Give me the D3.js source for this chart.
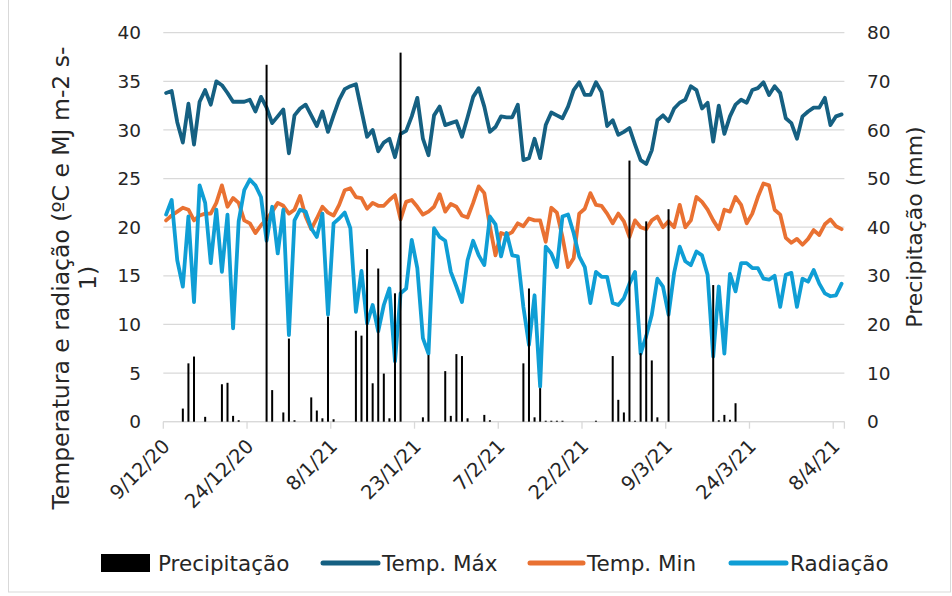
<!DOCTYPE html>
<html>
<head>
<meta charset="utf-8">
<script src="https://cdnjs.cloudflare.com/ajax/libs/d3/7.8.5/d3.min.js"></script>
<style>
  body { margin:0; background:#fff; }
  svg text { font-family:'DejaVu Sans', sans-serif; fill:#262626; }
</style>
</head>
<body>
<svg id="chart" width="952" height="596"></svg>
<script>
// one value per day, 9/12/20 .. 9/4/21
var startDate = new Date(2020, 11, 9)
var nDays = 122

var precip = [
    0, 0, 0, 2.7, 12.0, 13.4, 0, 1.0, 0, 0,
    7.7, 8.0, 1.2, 0.3, 0, 0, 0, 0, 73.4, 6.5,
    0, 1.9, 17.1, 0.3, 0, 0, 5.0, 2.3, 0.7, 21.6,
    0.5, 0, 0, 0, 18.7, 17.7, 35.5, 7.9, 31.5, 9.9,
    0.7, 26.4, 75.9, 0, 0, 0, 0.9, 13.7, 0, 0,
    10.4, 1.2, 13.9, 13.5, 0.7, 0, 0, 1.4, 0.3, 0,
    0, 0, 0, 0, 12.0, 27.4, 0.9, 6.9, 0.2, 0.2,
    0.2, 0.2, 0, 0, 0, 0, 0, 0.2, 0, 0,
    13.5, 4.5, 1.9, 53.7, 0.2, 14.1, 41.2, 12.6, 0.9, 0,
    43.7, 0, 0, 0, 0, 0, 0, 0, 28.1, 0.3,
    1.4, 0.4, 3.8, 0, 0, 0, 0, 0, 0, 0,
    0, 0, 0, 0, 0, 0, 0, 0, 0, 0,
    0, 0
]

var tempMax = [
    33.8, 34.0, 30.8, 28.7, 32.7, 28.5, 32.9, 34.1, 32.6, 35.0,
    34.6, 33.8, 32.9, 32.9, 32.9, 33.1, 31.9, 33.4, 32.3, 30.7,
    31.4, 32.1, 27.6, 31.5, 32.2, 32.6, 31.5, 30.4, 31.9, 29.8,
    31.5, 33.1, 34.2, 34.5, 34.7, 32.0, 29.3, 30.0, 27.8, 28.7,
    29.1, 27.2, 29.6, 29.9, 31.4, 33.3, 29.1, 27.4, 31.5, 32.4,
    30.5, 30.7, 30.9, 29.3, 31.3, 33.4, 34.3, 32.4, 29.8, 30.3,
    31.4, 31.3, 31.3, 32.6, 26.9, 27.1, 29.1, 27.1, 30.5, 31.8,
    31.5, 31.2, 32.4, 34.1, 34.9, 33.6, 33.6, 34.9, 33.9, 30.4,
    31.0, 29.5, 29.8, 30.2, 28.5, 26.9, 26.5, 27.9, 31.0, 31.5,
    30.9, 32.2, 32.8, 33.1, 34.5, 34.1, 32.2, 32.8, 28.8, 32.5,
    29.6, 31.4, 32.6, 33.1, 32.8, 34.1, 34.3, 34.9, 33.6, 34.5,
    33.8, 31.2, 30.7, 29.1, 31.4, 31.9, 32.3, 32.3, 33.3, 30.5,
    31.4, 31.6
]

var tempMin = [
    20.7, 21.2, 21.6, 22.0, 21.8, 20.7, 21.2, 21.4, 21.4, 22.5,
    24.3, 22.1, 23.0, 22.5, 20.7, 20.4, 19.4, 20.2, 20.8, 21.6,
    22.5, 22.2, 21.4, 21.8, 23.2, 21.1, 19.8, 20.9, 22.1, 21.5,
    21.2, 22.3, 23.8, 24.0, 23.1, 23.0, 21.9, 22.5, 22.2, 22.2,
    22.8, 23.3, 20.8, 22.6, 22.8, 22.1, 21.3, 21.6, 22.1, 23.4,
    21.6, 22.4, 22.1, 21.2, 21.0, 22.5, 24.2, 23.5, 20.1, 17.1,
    19.4, 19.2, 19.5, 20.4, 20.1, 20.9, 20.7, 20.7, 18.5, 22.0,
    21.5, 19.0, 15.9, 16.8, 21.4, 21.9, 23.5, 22.3, 22.2, 21.4,
    20.4, 21.4, 20.6, 19.0, 20.7, 20.0, 19.8, 20.7, 21.1, 20.0,
    20.6, 20.0, 22.3, 20.0, 20.7, 23.1, 22.6, 21.8, 20.7, 19.8,
    21.8, 21.6, 23.1, 22.3, 20.4, 21.4, 23.1, 24.5, 24.3, 21.8,
    21.3, 18.9, 18.4, 18.8, 18.2, 18.8, 19.7, 19.2, 20.3, 20.8,
    20.1, 19.8
]

var radiation = [
    21.3, 22.8, 16.6, 13.9, 21.1, 12.3, 24.3, 22.5, 16.3, 21.8,
    15.4, 21.3, 9.6, 20.6, 23.8, 24.9, 24.3, 23.1, 18.6, 22.1,
    17.3, 21.8, 8.9, 20.7, 21.8, 21.6, 19.9, 19.0, 21.4, 11.0,
    20.4, 20.9, 21.5, 19.9, 11.3, 15.5, 10.1, 12.0, 9.3, 12.0,
    13.7, 6.2, 13.2, 13.7, 18.7, 15.8, 8.6, 7.0, 19.9, 19.0,
    18.6, 15.4, 13.9, 12.3, 16.6, 18.6, 17.1, 16.1, 21.1, 20.3,
    17.0, 19.4, 17.1, 17.0, 11.8, 7.9, 13.0, 3.6, 18.0, 17.3,
    15.9, 21.1, 21.3, 19.4, 17.0, 15.9, 12.2, 15.4, 14.9, 14.9,
    12.2, 12.0, 12.7, 14.2, 15.4, 7.0, 8.8, 11.0, 14.7, 13.9,
    11.0, 15.3, 18.0, 16.5, 16.1, 17.5, 17.1, 15.1, 6.7, 13.9,
    7.0, 15.2, 13.4, 16.3, 16.3, 15.8, 15.8, 14.7, 14.6, 15.0,
    11.8, 15.1, 15.3, 11.8, 14.7, 14.4, 15.6, 14.2, 13.2, 12.9,
    13.0, 14.2
]

var leftTicks = [0, 5, 10, 15, 20, 25, 30, 35, 40]
var rightTicks = [0, 10, 20, 30, 40, 50, 60, 70, 80]
var dateTickStep = 15

var lineSeries = [
    { name:'Temp. Máx', values:tempMax, color:'#156082' },
    { name:'Temp. Min', values:tempMin, color:'#E97132' },
    { name:'Radiação', values:radiation, color:'#0F9ED5' }
]

var dates = d3.range(nDays).map(i=> d3.timeDay.offset(startDate, i))

var plot = { left:163.3, right:844.4, top:32.7, bottom:421.7 }
var gridColor = '#d9d9d9'

var svg = d3.select('#chart')

// outer chart frame
svg.append('rect')
    .attr('x', 8.5).attr('y', -2)
    .attr('width', 942).attr('height', 594)
    .style('fill', 'none')
    .style('stroke', gridColor)

var x = d3.scaleTime()
    .domain([startDate, d3.timeDay.offset(startDate, nDays)])
    .range([plot.left, plot.right])
var xMid = d=> x(d3.timeHour.offset(d, 12))   // columns sit between tick marks

var yL = d3.scaleLinear().domain([0, 40]).range([plot.bottom, plot.top])
var yR = d3.scaleLinear().domain([0, 80]).range([plot.bottom, plot.top])

// horizontal gridlines
svg.append('g')
    .selectAll('line')
    .data(leftTicks)
    .join('line')
        .attr('x1', plot.left).attr('x2', plot.right)
        .attr('y1', d=> yL(d)).attr('y2', d=> yL(d))
        .style('stroke', gridColor)
        .style('stroke-width', 1.3)

// left axis labels
svg.append('g')
    .selectAll('text')
    .data(leftTicks)
    .join('text')
        .attr('x', 141)
        .attr('y', d=> yL(d))
        .attr('dy', '0.36em')
        .attr('text-anchor', 'end')
        .style('font-size', '18.5px')
        .text(d=> d)

// right axis labels
svg.append('g')
    .selectAll('text')
    .data(rightTicks)
    .join('text')
        .attr('x', 867)
        .attr('y', d=> yR(d))
        .attr('dy', '0.36em')
        .style('font-size', '18.5px')
        .text(d=> d)

// date axis
var tickDates = d3.range(0, nDays, dateTickStep).map(i=> d3.timeDay.offset(startDate, i))
var fmt = d3.timeFormat('%-d/%-m/%y')

svg.append('line')
    .attr('x1', plot.left).attr('x2', plot.right)
    .attr('y1', plot.bottom).attr('y2', plot.bottom)
    .style('stroke', gridColor)
    .style('stroke-width', 1.3)

svg.append('g')
    .selectAll('line')
    .data(tickDates.concat([d3.timeDay.offset(startDate, nDays)]))
    .join('line')
        .attr('x1', d=> x(d)).attr('x2', d=> x(d))
        .attr('y1', plot.bottom).attr('y2', plot.bottom + 7)
        .style('stroke', gridColor)
        .style('stroke-width', 1.3)

svg.append('g')
    .selectAll('text')
    .data(tickDates)
    .join('text')
        .attr('transform', d=> 'translate(' + (x(d) + 3) + ',' + (plot.bottom + 21) + ') rotate(-45)')
        .attr('text-anchor', 'end')
        .attr('dy', '0.35em')
        .style('font-size', '19.5px')
        .text(d=> fmt(d))

// lines
var line = d3.line()
    .x((v, i)=> xMid(dates[i]))
    .y(v=> yL(v))

svg.append('g')
    .selectAll('path')
    .data(lineSeries)
    .join('path')
        .attr('d', s=> line(s.values))
        .style('fill', 'none')
        .style('stroke', s=> s.color)
        .style('stroke-width', 3.8)
        .style('stroke-linejoin', 'round')
        .style('stroke-linecap', 'round')

// precipitation columns (secondary axis, drawn on top)
svg.append('g')
    .selectAll('rect')
    .data(precip.map((p, i)=> ({ date:dates[i], p:p })).filter(d=> d.p > 0))
    .join('rect')
        .attr('x', d=> xMid(d.date) - 1)
        .attr('width', 2)
        .attr('y', d=> yR(d.p))
        .attr('height', d=> yR(0) - yR(d.p))
        .style('fill', '#000')

// axis titles
svg.append('text')
    .attr('transform', 'translate(69,278) rotate(-90)')
    .attr('text-anchor', 'middle')
    .style('font-size', '23.5px')
    .text('Temperatura e radiação (ºC e MJ m-2 s-')

svg.append('text')
    .attr('transform', 'translate(96,278) rotate(-90)')
    .attr('text-anchor', 'middle')
    .style('font-size', '23.5px')
    .text('1)')

svg.append('text')
    .attr('transform', 'translate(922,227) rotate(-90)')
    .attr('text-anchor', 'middle')
    .style('font-size', '22px')
    .text('Precipitação (mm)')

// legend
var legendY = 563
var legend = svg.append('g').style('font-size', '21.5px')

legend.append('rect')
    .attr('x', 101).attr('y', legendY - 9)
    .attr('width', 49).attr('height', 18)
    .style('fill', '#000')
legend.append('text')
    .attr('x', 158).attr('y', legendY).attr('dy', '0.36em')
    .text('Precipitação')

var legendX = [[323, 382], [530, 587], [731, 790]]
lineSeries.forEach((s, i)=> {
    legend.append('line')
        .attr('x1', legendX[i][0]).attr('x2', legendX[i][1] - 4)
        .attr('y1', legendY).attr('y2', legendY)
        .style('stroke', s.color)
        .style('stroke-width', 5)
        .style('stroke-linecap', 'round')
    legend.append('text')
        .attr('x', legendX[i][1]).attr('y', legendY).attr('dy', '0.36em')
        .text(s.name)
})
</script>
</body>
</html>
